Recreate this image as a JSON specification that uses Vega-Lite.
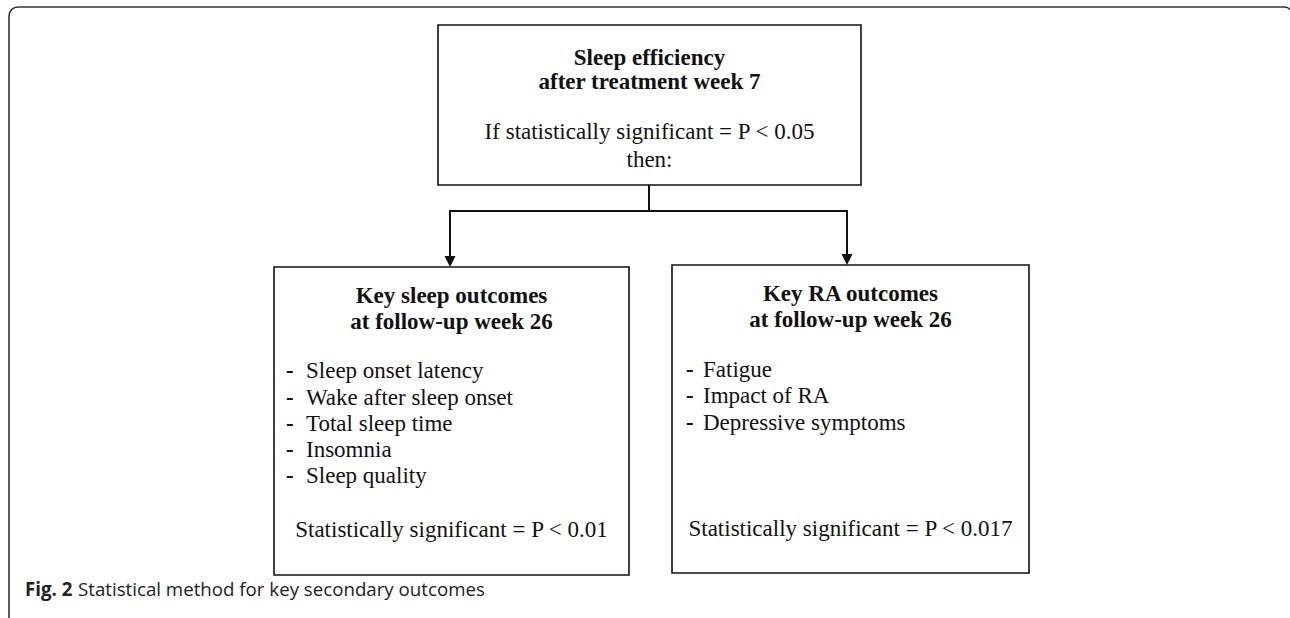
{
  "$schema": "https://vega.github.io/schema/vega-lite/v6.json",
  "width": 1290,
  "height": 618,
  "autosize": {"type": "none"},
  "padding": 0,
  "background": "white",
  "config": {"view": {"stroke": null}},
  "datasets": {
    "frame": [{"x1": 9, "x2": 1293, "y1": 7, "y2": 640}],
    "boxes": [
      {"box": "top", "x1": 438, "x2": 861, "y1": 25, "y2": 185},
      {"box": "sleep", "x1": 274, "x2": 629, "y1": 267, "y2": 575},
      {"box": "ra", "x1": 672, "x2": 1029, "y1": 265, "y2": 573}
    ],
    "links": [
      {"x1": 649, "y1": 185, "x2": 649, "y2": 211},
      {"x1": 449, "y1": 211, "x2": 848, "y2": 211},
      {"x1": 450, "y1": 211, "x2": 450, "y2": 258},
      {"x1": 847, "y1": 211, "x2": 847, "y2": 256}
    ],
    "heads": [
      {"x": 450, "y": 261.5},
      {"x": 847, "y": 259.5}
    ],
    "texts": [
      {"style": "title", "t": "Sleep efficiency", "x": 649.5, "y": 65},
      {"style": "title", "t": "after treatment week 7", "x": 649.5, "y": 89},
      {"style": "center", "t": "If statistically significant = P < 0.05", "x": 649.5, "y": 139},
      {"style": "center", "t": "then:", "x": 649.5, "y": 167},
      {"style": "title", "t": "Key sleep outcomes", "x": 451.5, "y": 303},
      {"style": "title", "t": "at follow-up week 26", "x": 451.5, "y": 329},
      {"style": "item", "t": "Sleep onset latency", "x": 306, "y": 378},
      {"style": "item", "t": "Wake after sleep onset", "x": 306, "y": 405},
      {"style": "item", "t": "Total sleep time", "x": 306, "y": 431},
      {"style": "item", "t": "Insomnia", "x": 306, "y": 457},
      {"style": "item", "t": "Sleep quality", "x": 306, "y": 483},
      {"style": "dash", "t": "-", "x": 286, "y": 378},
      {"style": "dash", "t": "-", "x": 286, "y": 405},
      {"style": "dash", "t": "-", "x": 286, "y": 431},
      {"style": "dash", "t": "-", "x": 286, "y": 457},
      {"style": "dash", "t": "-", "x": 286, "y": 483},
      {"style": "center", "t": "Statistically significant = P < 0.01", "x": 451.5, "y": 537},
      {"style": "title", "t": "Key RA outcomes", "x": 850.5, "y": 301},
      {"style": "title", "t": "at follow-up week 26", "x": 850.5, "y": 327},
      {"style": "item", "t": "Fatigue", "x": 703, "y": 377},
      {"style": "item", "t": "Impact of RA", "x": 703, "y": 403},
      {"style": "item", "t": "Depressive symptoms", "x": 703, "y": 430},
      {"style": "dash", "t": "-", "x": 686, "y": 377},
      {"style": "dash", "t": "-", "x": 686, "y": 403},
      {"style": "dash", "t": "-", "x": 686, "y": 430},
      {"style": "center", "t": "Statistically significant = P < 0.017", "x": 850.5, "y": 536},
      {"style": "capb", "t": "Fig. 2", "x": 25, "y": 596},
      {"style": "cap", "t": "Statistical method for key secondary outcomes", "x": 78, "y": 596}
    ]
  },
  "layer": [
    {
      "data": {"name": "frame"},
      "mark": {"type": "rect", "filled": false, "stroke": "#333333", "strokeWidth": 1.6, "cornerRadius": 9},
      "encoding": {
        "x": {"field": "x1", "type": "quantitative", "scale": {"domain": [0, 1290], "nice": false, "zero": false}, "axis": null},
        "x2": {"field": "x2"},
        "y": {"field": "y1", "type": "quantitative", "scale": {"domain": [0, 618], "nice": false, "zero": false, "reverse": true}, "axis": null},
        "y2": {"field": "y2"}
      }
    },
    {
      "data": {"name": "boxes"},
      "mark": {"type": "rect", "fill": "white", "stroke": "#111111", "strokeWidth": 1.6},
      "encoding": {
        "x": {"field": "x1", "type": "quantitative", "axis": null},
        "x2": {"field": "x2"},
        "y": {"field": "y1", "type": "quantitative", "axis": null},
        "y2": {"field": "y2"}
      }
    },
    {
      "data": {"name": "links"},
      "mark": {"type": "rule", "color": "#111111", "strokeWidth": 2},
      "encoding": {
        "x": {"field": "x1", "type": "quantitative", "axis": null},
        "x2": {"field": "x2"},
        "y": {"field": "y1", "type": "quantitative", "axis": null},
        "y2": {"field": "y2"}
      }
    },
    {
      "data": {"name": "heads"},
      "mark": {"type": "point", "shape": "M-1,-1L1,-1L0,1Z", "filled": true, "color": "#111111", "size": 121, "opacity": 1, "strokeWidth": 0},
      "encoding": {
        "x": {"field": "x", "type": "quantitative", "axis": null},
        "y": {"field": "y", "type": "quantitative", "axis": null}
      }
    },
    {
      "data": {"name": "texts"},
      "transform": [{"filter": "datum.style == 'title'"}],
      "mark": {"type": "text", "font": "Liberation Serif", "fontSize": 23, "fontWeight": "bold", "align": "center", "baseline": "alphabetic", "color": "#111111"},
      "encoding": {
        "x": {"field": "x", "type": "quantitative", "axis": null},
        "y": {"field": "y", "type": "quantitative", "axis": null},
        "text": {"field": "t"}
      }
    },
    {
      "data": {"name": "texts"},
      "transform": [{"filter": "datum.style == 'center'"}],
      "mark": {"type": "text", "font": "Liberation Serif", "fontSize": 23, "align": "center", "baseline": "alphabetic", "color": "#111111"},
      "encoding": {
        "x": {"field": "x", "type": "quantitative", "axis": null},
        "y": {"field": "y", "type": "quantitative", "axis": null},
        "text": {"field": "t"}
      }
    },
    {
      "data": {"name": "texts"},
      "transform": [{"filter": "datum.style == 'item'"}],
      "mark": {"type": "text", "font": "Liberation Serif", "fontSize": 23, "align": "left", "baseline": "alphabetic", "color": "#111111"},
      "encoding": {
        "x": {"field": "x", "type": "quantitative", "axis": null},
        "y": {"field": "y", "type": "quantitative", "axis": null},
        "text": {"field": "t"}
      }
    },
    {
      "data": {"name": "texts"},
      "transform": [{"filter": "datum.style == 'dash'"}],
      "mark": {"type": "text", "font": "Liberation Serif", "fontSize": 23, "fontWeight": "bold", "align": "left", "baseline": "alphabetic", "color": "#111111"},
      "encoding": {
        "x": {"field": "x", "type": "quantitative", "axis": null},
        "y": {"field": "y", "type": "quantitative", "axis": null},
        "text": {"field": "t"}
      }
    },
    {
      "data": {"name": "texts"},
      "transform": [{"filter": "datum.style == 'capb'"}],
      "mark": {"type": "text", "font": "Open Sans", "fontSize": 18.7, "fontWeight": "bold", "align": "left", "baseline": "alphabetic", "color": "#222222"},
      "encoding": {
        "x": {"field": "x", "type": "quantitative", "axis": null},
        "y": {"field": "y", "type": "quantitative", "axis": null},
        "text": {"field": "t"}
      }
    },
    {
      "data": {"name": "texts"},
      "transform": [{"filter": "datum.style == 'cap'"}],
      "mark": {"type": "text", "font": "Open Sans", "fontSize": 18.7, "align": "left", "baseline": "alphabetic", "color": "#222222"},
      "encoding": {
        "x": {"field": "x", "type": "quantitative", "axis": null},
        "y": {"field": "y", "type": "quantitative", "axis": null},
        "text": {"field": "t"}
      }
    }
  ]
}
